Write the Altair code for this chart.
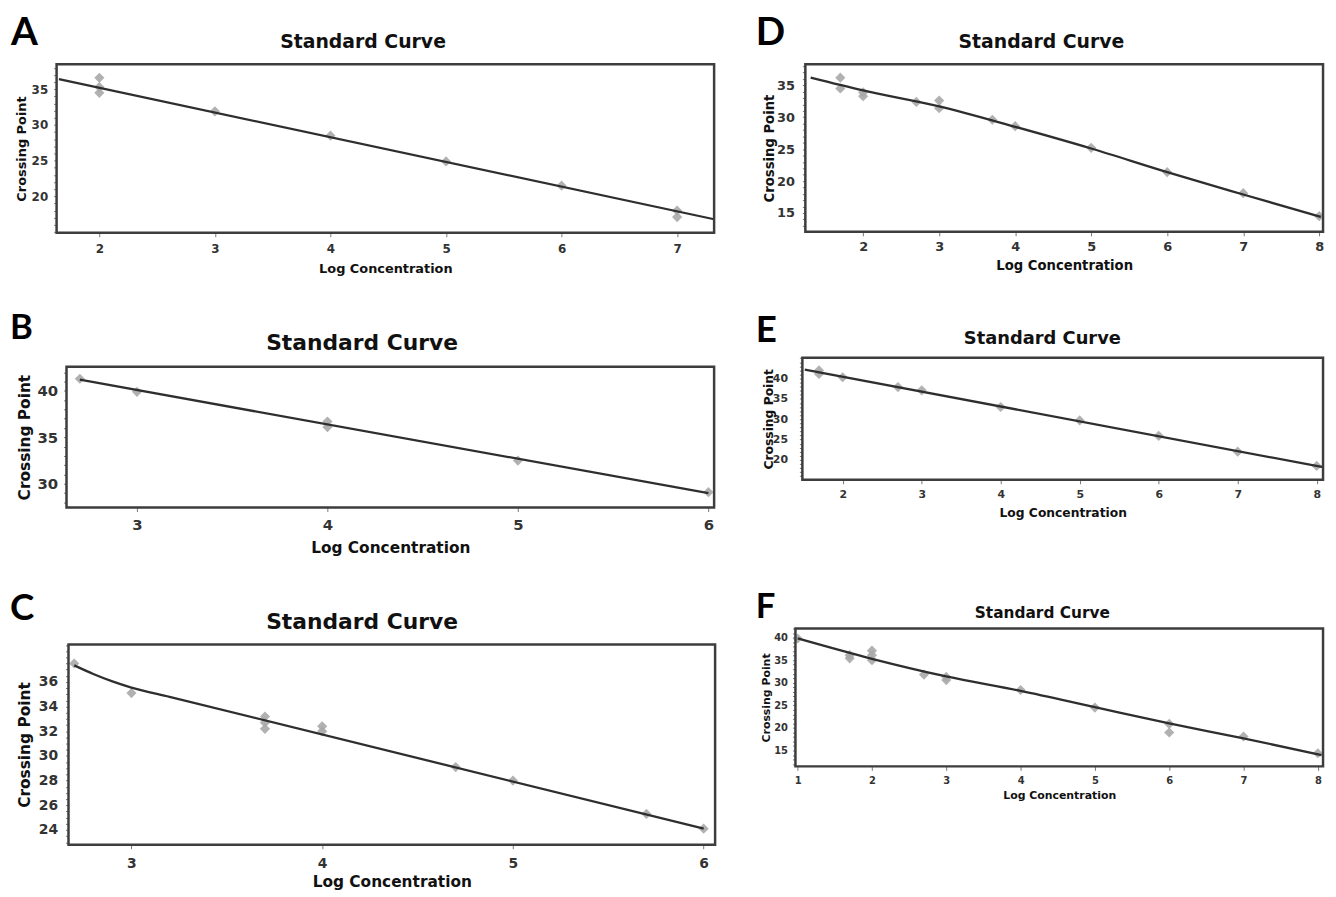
import altair as alt
import pandas as pd

FONT = "DejaVu Sans"

# ---------------- data ----------------
# Panel A
a_px = [2, 2, 2, 3, 4, 5, 6, 7, 7]
a_py = [36.6, 35.3, 34.5, 31.9, 28.5, 24.9, 21.5, 18.0, 17.1]
a_fx = [1.65, 7.32]
a_fy = [36.4, 16.8]
a_xticks = [2, 3, 4, 5, 6, 7]
a_yticks = [20, 25, 30, 35]

# Panel B
b_px = [2.7, 3, 4, 4, 5, 6]
b_py = [41.3, 39.9, 36.7, 36.1, 32.5, 29.1]
b_fx = [2.7, 6.0]
b_fy = [41.2, 29.0]
b_xticks = [3, 4, 5, 6]
b_yticks = [30, 35, 40]

# Panel C
c_px = [2.7, 3, 3.7, 3.7, 3.7, 4, 4, 4.7, 5, 5.7, 6]
c_py = [37.5, 35.1, 33.2, 32.7, 32.2, 32.4, 32.0, 29.1, 28.0, 25.3, 24.1]
c_fx = [2.70, 2.80, 2.90, 3.0, 3.2, 6.0]
c_fy = [37.35, 36.65, 36.05, 35.55, 34.8, 24.1]
c_xticks = [3, 4, 5, 6]
c_yticks = [24, 26, 28, 30, 32, 34, 36]

# Panel D
d_px = [1.7, 1.7, 2, 2, 2.7, 3, 3, 3.7, 4, 5, 6, 7, 8]
d_py = [36.2, 34.5, 33.9, 33.3, 32.4, 32.6, 31.4, 29.6, 28.6, 25.2, 21.4, 18.1, 14.5]
d_fx = [1.31, 2.0, 3.0, 4.0, 5.0, 6.0, 7.0, 8.02]
d_fy = [36.2, 34.2, 31.7, 28.5, 25.1, 21.4, 17.9, 14.4]
d_xticks = [2, 3, 4, 5, 6, 7, 8]
d_yticks = [15, 20, 25, 30, 35]

# Panel E
e_px = [1.7, 1.7, 2, 2.7, 3, 4, 5, 6, 7, 8]
e_py = [42.0, 41.1, 40.3, 37.9, 37.1, 33.0, 29.7, 25.9, 22.0, 18.5]
e_fx = [1.52, 8.08]
e_fy = [42.2, 18.2]
e_xticks = [2, 3, 4, 5, 6, 7, 8]
e_yticks = [20, 25, 30, 35, 40]

# Panel F
f_px = [1, 1.7, 1.7, 2, 2, 2, 2.7, 3, 3, 4, 5, 6, 6, 7, 8]
f_py = [39.8, 36.1, 35.4, 37.1, 36.1, 35.0, 31.8, 31.3, 30.6, 28.4, 24.5, 20.9, 19.0, 18.1, 14.4]
f_fx = [1.0, 2.0, 3.0, 4.0, 5.0, 6.0, 7.0, 8.05]
f_fy = [39.8, 35.3, 31.4, 28.2, 24.6, 21.0, 17.7, 14.0]
f_xticks = [1, 2, 3, 4, 5, 6, 7, 8]
f_yticks = [15, 20, 25, 30, 35, 40]

TITLE = "Standard Curve"
XTITLE = "Log Concentration"
YTITLE = "Crossing Point"

FRAME_COLOR = "#3d3d3d"


def minor_ticks(lo, hi, step):
    out = []
    v = lo
    while v <= hi + 1e-9:
        out.append(round(v, 2))
        v += step
    return out


def panel(letter, px, py, fx, fy, xdom, ydom, xticks, yticks, ystep,
          view, frame, let_x, let_base, let_fs, tcen, t_fs,
          lab_fs, ax_fs, x_lpad, x_ty, y_lpad, y_tx, interp="linear"):
    vl, vt = view
    fl, ft, fr, fb = frame
    w = fr - vl
    h = fb - vt
    xr = [fl - vl, fr - vl]
    yr = [fb - vt, ft - vt]
    pts = pd.DataFrame({"x": px, "y": py})
    fit = pd.DataFrame({"x": fx, "y": fy})
    one = pd.DataFrame({"t": [letter]})
    xs = alt.Scale(domain=xdom, range=xr, nice=False, zero=False)
    ys = alt.Scale(domain=ydom, range=yr, nice=False, zero=False)
    yvals = minor_ticks(int(ydom[0]) + 1, ydom[1], ystep)
    for v in yticks:
        if v not in yvals:
            yvals.append(v)
    major = ",".join(str(v) for v in yticks)
    xax = alt.Axis(values=xticks, title=XTITLE, format="d", labelFontSize=lab_fs,
                   titleFontSize=ax_fs, labelPadding=x_lpad, titleY=x_ty,
                   titleBaseline="middle", labelFlush=False, labelOverlap=False)
    yax = alt.Axis(values=yvals, title=YTITLE, labelFontSize=lab_fs,
                   labelExpr="indexof([" + major + "], datum.value) >= 0 ? format(datum.value, 'd') : ''",
                   titleFontSize=ax_fs, labelPadding=y_lpad, titleX=y_tx,
                   titleY=(ft - vt + fb - vt) / 2, titleBaseline="middle",
                   titleAngle=270, offset=-(fl - vl), labelFlush=False,
                   labelOverlap=False, tickSize=3)
    points = alt.Chart(pts).mark_point(filled=True, shape="diamond", size=105,
                                       color="#a8a8a8", opacity=0.9).encode(
        x=alt.X("x:Q", scale=xs, axis=xax), y=alt.Y("y:Q", scale=ys, axis=yax))
    line = alt.Chart(fit).mark_line(color="#2e2e2e", strokeWidth=2.3,
                                    interpolate=interp).encode(
        x=alt.X("x:Q", scale=xs, axis=xax), y=alt.Y("y:Q", scale=ys, axis=yax))
    box = alt.Chart(one).mark_rect(filled=False, stroke=FRAME_COLOR,
                                   strokeWidth=2.5).encode(
        x=alt.value(fl - vl), x2=alt.value(fr - vl),
        y=alt.value(ft - vt), y2=alt.value(fb - vt))
    lab = alt.Chart(one).mark_text(
        font="Lato", fontWeight="bold", fontSize=let_fs, align="left",
        baseline="alphabetic", color="#000").encode(
        x=alt.value(let_x), y=alt.value(let_base - vt), text="t:N")
    ttl = alt.Chart(pd.DataFrame({"t": [TITLE]})).mark_text(
        font=FONT, fontWeight="bold", fontSize=t_fs, align="center",
        baseline="middle", color="#111").encode(
        x=alt.value(tcen[0] - vl), y=alt.value(tcen[1] - vt), text="t:N")
    return alt.layer(points, line, box, lab, ttl).properties(width=w, height=h)


LV = 10      # left column view left (page px)
RV = 759     # right column view left (page px)

A = panel("A", a_px, a_py, a_fx, a_fy, [1.63, 7.32], [14.9, 38.5], a_xticks, a_yticks, 1,
          (LV, 11), (57, 61, 720, 231), 1, 42, 39, (366, 39), 19,
          12, 13, 7, 36, 6, -35)
B = panel("B", b_px, b_py, b_fx, b_fy, [2.63, 6.03], [27.45, 42.6], b_xticks, b_yticks, 1,
          (LV, 310), (67, 366, 720, 508), 0, 338, 35, (365, 342), 22,
          15, 15.5, 6, 40, 6, -42)
C = panel("C", c_px, c_py, c_fx, c_fy, [2.67, 6.06], [22.8, 39.05], c_xticks, c_yticks, 0.5,
          (LV, 590), (69, 645, 721, 847), 0, 620, 37, (365, 622), 22,
          14, 15.5, 8, 37, 8, -44, interp="monotone")
D = panel("D", d_px, d_py, d_fx, d_fy, [1.24, 8.05], [12.05, 38.3], d_xticks, d_yticks, 1,
          (RV, 11), (809, 61, 1331, 230), 0, 42, 39, (1047, 39), 19,
          13, 13.3, 5, 34, 8, -36, interp="monotone")
E = panel("E", e_px, e_py, e_fx, e_fy, [1.49, 8.08], [15.1, 45.1], e_xticks, e_yticks, 1,
          (RV, 310), (806, 356, 1331, 479), 0, 340, 37, (1048, 337), 18,
          11, 12.4, 5, 33, 12, -34)
F = panel("F", f_px, f_py, f_fx, f_fy, [0.97, 8.07], [11.5, 42.0], f_xticks, f_yticks, 1,
          (RV, 589), (799, 628, 1331, 767), 0, 617, 35, (1048, 612), 15.5,
          10, 11, 5, 29, 5, -29, interp="monotone")

left = alt.vconcat(alt.vconcat(A, B, spacing=36), C, spacing=34)
right = alt.vconcat(alt.vconcat(D, E, spacing=40), F, spacing=71)

chart = alt.hconcat(left, right, spacing=37).properties(
    padding={"left": 2, "top": 3, "right": 0, "bottom": 0}
).configure_view(
    stroke="transparent", strokeWidth=0
).configure_axis(
    grid=False, domain=False, tickColor="#777", tickSize=4,
    labelFont=FONT, titleFont=FONT, labelFontWeight="bold",
    titleFontWeight="bold", labelColor="#333", titleColor="#111"
)

chart.save("out.html", embed_options={"renderer": "svg", "actions": False})
